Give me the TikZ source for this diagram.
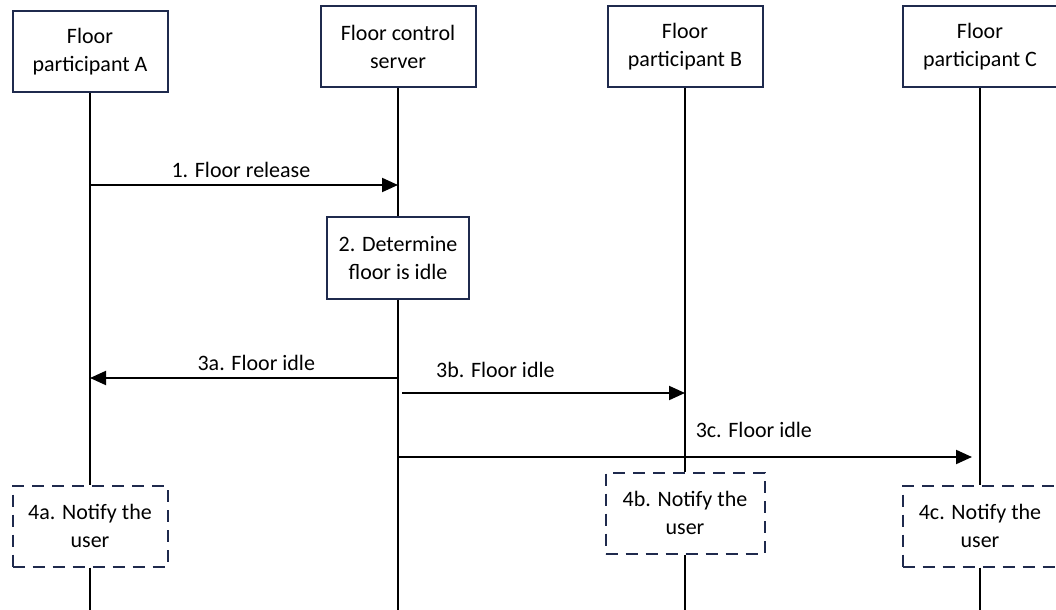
\documentclass[tikz,border=0pt]{standalone}
\usepackage{fontspec}
\setmainfont{Carlito}
\usetikzlibrary{arrows.meta}
\definecolor{boxnavy}{HTML}{1F2A4D}

\begin{document}
\begin{tikzpicture}[
    x=0.5pt, y=-0.5pt,
    entity/.style={draw=boxnavy, line width=1pt, minimum width=77.5pt, minimum height=40.5pt, align=center, font=\fontsize{11}{14}\selectfont},
    notify/.style={entity, dash pattern=on 6pt off 4pt, line width=1pt},
    msg/.style={-{Triangle[length=8pt, width=7pt]}, line width=1pt},
    life/.style={line width=1pt},
    lbl/.style={font=\fontsize{11}{14}\selectfont},
]
    \useasboundingbox (0,0) rectangle (1056,610);

    % Participants
    \node[entity] (pA) at (90, 52) {Floor\\participant A};
    \node[entity] (srv) at (398, 47) {Floor control\\server};
    \node[entity] (pB) at (685, 47) {Floor\\participant B};
    \node[entity] (pC) at (980, 47) {Floor\\participant C};

    % Server step
    \node[entity, minimum width=71pt] (det) at (398, 258) {2. Determine\\floor is idle};

    % Notify steps
    \node[notify] (n4a) at (90, 526) {4a. Notify the\\user};
    \node[notify, minimum width=79.5pt] (n4b) at (685, 513) {4b. Notify the\\user};
    \node[notify] (n4c) at (980, 526) {4c. Notify the\\user};

    % Lifeline ends
    \coordinate (endA) at (90, 610);
    \coordinate (endS) at (398, 610);
    \coordinate (endB) at (685, 610);
    \coordinate (endC) at (980, 610);

    % Lifelines
    \draw[life] (pA) -- (n4a);
    \draw[life] (n4a) -- (endA);
    \draw[life] (srv) -- (det);
    \draw[life] (det) -- (endS);
    \draw[life] (pB) -- (n4b);
    \draw[life] (n4b) -- (endB);
    \draw[life] (pC) -- (n4c);
    \draw[life] (n4c) -- (endC);

    % Message points
    \coordinate (a1) at (90, 185);
    \coordinate (s1) at (398, 185);
    \coordinate (s3a) at (398, 378);
    \coordinate (a3a) at (90, 378);
    \coordinate (s3b) at (402, 393);
    \coordinate (b3b) at (685, 393);
    \coordinate (s3c) at (398, 457);
    \coordinate (c3c) at (972, 457);

    % Messages
    \draw[msg] (a1) -- node[lbl, above, pos=0.49] {1. Floor release} (s1);
    \draw[msg] (s3a) -- node[lbl, above, pos=0.46] {3a. Floor idle} (a3a);
    \draw[msg] (s3b) -- node[lbl, above=4pt, pos=0.33] {3b. Floor idle} (b3b);
    \draw[msg] (s3c) -- node[lbl, above=6pt, pos=0.62] {3c. Floor idle} (c3c);
\end{tikzpicture}
\end{document}
